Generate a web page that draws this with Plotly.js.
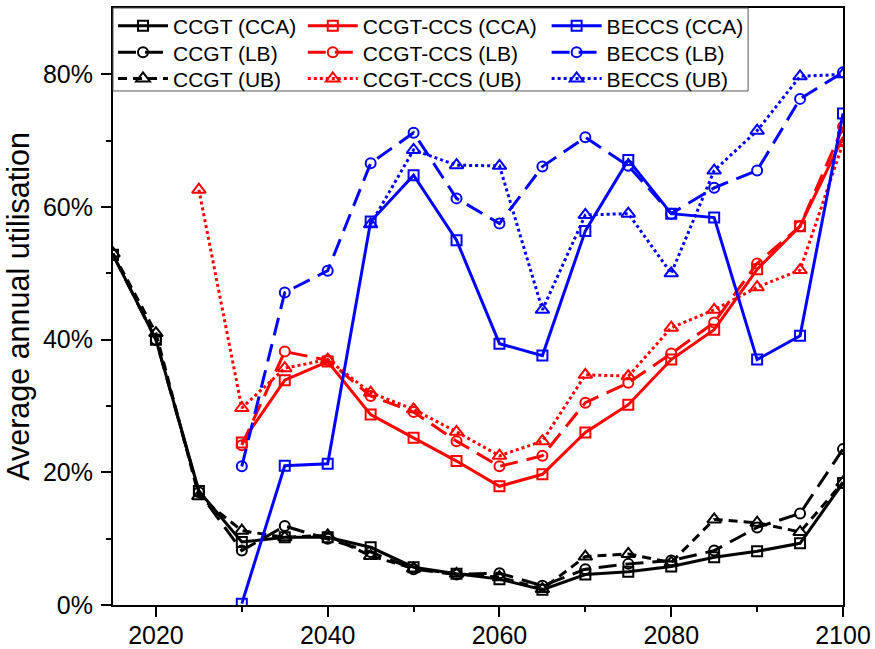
<!DOCTYPE html>
<html>
<head>
<meta charset="utf-8">
<script src="https://cdn.plot.ly/plotly-3.0.1.min.js"></script>
<style>html,body{margin:0;padding:0;background:#fff;}#chart{width:875px;height:649px;}</style>
</head>
<body>
<div id="chart"></div>
<script>
const years = [2015,2020,2025,2030,2035,2040,2045,2050,2055,2060,2065,2070,2075,2080,2085,2090,2095,2100];

const ccgtCCA = [52.8,40.0,17.2,9.5,10.2,10.2,8.7,5.7,4.7,3.9,2.3,4.6,5.0,5.8,7.2,8.1,9.3,18.4];
const ccgtLB  = [52.8,40.0,17.0,8.2,11.9,10.0,8.0,5.4,4.6,4.8,2.9,5.4,6.2,6.7,8.2,11.7,13.8,23.5];
const ccgtUB  = [53.0,41.0,16.4,11.2,10.2,10.5,7.4,5.5,4.7,4.2,2.4,7.3,7.7,6.4,12.9,12.4,11.0,18.5];

const ccsCCA = [null,null,null,24.5,33.9,36.7,28.7,25.2,21.7,17.9,19.7,26.0,30.2,37.0,41.5,50.6,57.1,70.5];
const ccsLB  = [null,null,null,24.1,38.2,36.9,31.5,29.1,24.7,20.9,22.5,30.5,33.5,37.9,42.6,51.5,57.1,72.1];
const ccsUB  = [null,null,62.6,29.7,35.7,37.0,32.0,29.5,26.1,22.5,24.7,34.7,34.5,41.8,44.5,47.9,50.5,69.6];

const beccsCCA = [null,null,null,0.2,21.0,21.3,57.8,64.8,55.0,39.4,37.6,56.4,67.1,59.0,58.4,37.0,40.6,74.1];
const beccsLB  = [null,null,null,20.9,47.1,50.4,66.6,71.2,61.3,57.5,66.1,70.5,66.2,59.0,62.9,65.5,76.3,80.3];
const beccsUB  = [null,null,null,null,null,null,57.4,68.6,66.3,66.2,44.5,58.8,59.0,50.0,65.5,71.5,79.7,80.0];

const names = ['CCGT (CCA)','CCGT (LB)','CCGT (UB)','CCGT-CCS (CCA)','CCGT-CCS (LB)','CCGT-CCS (UB)','BECCS (CCA)','BECCS (LB)','BECCS (UB)'];
const xTickVals = [2020,2040,2060,2080,2100];
const yTickVals = [0,20,40,60,80];

const BLACK = '#000000', RED = '#ff0000', BLUE = '#0000ff';
const dashLB = '18px,9px';
const dashUBblack = '9px,6px';

function tr(name, y, color, dash, symbol, legend) {
  return {
    type: 'scatter', mode: 'lines+markers', x: years, y: y, name: name,
    connectgaps: false, legend: legend,
    line: {color: color, width: 3, dash: dash},
    marker: {symbol: symbol, size: symbol.indexOf('triangle') === 0 ? 12 : 10, color: color, line: {color: color, width: 2}}
  };
}

const data = [
  tr(names[0], ccgtCCA, BLACK, 'solid', 'square-open', 'legend'),
  tr(names[1], ccgtLB, BLACK, dashLB, 'circle-open', 'legend2'),
  tr(names[2], ccgtUB, BLACK, dashUBblack, 'triangle-up-open', 'legend3'),
  tr(names[3], ccsCCA, RED, 'solid', 'square-open', 'legend4'),
  tr(names[4], ccsLB, RED, dashLB, 'circle-open', 'legend5'),
  tr(names[5], ccsUB, RED, 'dot', 'triangle-up-open', 'legend6'),
  tr(names[6], beccsCCA, BLUE, 'solid', 'square-open', 'legend7'),
  tr(names[7], beccsLB, BLUE, dashLB, 'circle-open', 'legend8'),
  tr(names[8], beccsUB, BLUE, 'dot', 'triangle-up-open', 'legend9')
];

const legBase = {yanchor: 'middle', xanchor: 'left', bgcolor: 'rgba(0,0,0,0)', borderwidth: 0,
  font: {family: 'Liberation Sans, Arial, sans-serif', size: 21, color: '#000'}, itemwidth: 50, tracegroupgap: 0};
const colX = [0.0, 0.26, 0.594];
const rowY = [0.9698, 0.9251, 0.8815];
function leg(c, r) { return Object.assign({}, legBase, {x: colX[c], y: rowY[r]}); }

const layout = {
  width: 875, height: 649,
  margin: {l: 113, r: 32, t: 8, b: 44, autoexpand: false},
  paper_bgcolor: '#fff', plot_bgcolor: '#fff',
  font: {family: 'Liberation Sans, Arial, sans-serif', color: '#000'},
  showlegend: true,
  legend: leg(0,0), legend2: leg(0,1), legend3: leg(0,2),
  legend4: leg(1,0), legend5: leg(1,1), legend6: leg(1,2),
  legend7: leg(2,0), legend8: leg(2,1), legend9: leg(2,2),
  xaxis: {
    range: [2015, 2100], tickvals: xTickVals, ticktext: xTickVals.map(String),
    ticks: 'outside', ticklen: 10, tickwidth: 2, tickcolor: '#000', ticklabelstandoff: -3,
    minor: {tickvals: [2030,2050,2070,2090], ticks: 'outside', ticklen: 5, tickwidth: 2, tickcolor: '#000'},
    showline: true, linewidth: 2, linecolor: '#000', mirror: true,
    showgrid: false, zeroline: false,
    tickfont: {size: 25, color: '#000'}
  },
  yaxis: {
    range: [0, 90], tickvals: yTickVals, ticktext: yTickVals.map(v => v + '%'),
    ticks: 'outside', ticklen: 10, tickwidth: 2, tickcolor: '#000', ticklabelstandoff: 3,
    minor: {tickvals: [10,30,50,70], ticks: 'outside', ticklen: 5, tickwidth: 2, tickcolor: '#000'},
    showline: true, linewidth: 2, linecolor: '#000', mirror: true,
    showgrid: false, zeroline: false,
    tickfont: {size: 25, color: '#000'},
    title: {text: 'Average annual utilisation', font: {size: 30.5, color: '#000'}, standoff: 4}
  },
  shapes: [{type: 'rect', xref: 'paper', yref: 'paper', x0: 0, x1: 0.87, y0: 0.861, y1: 1,
    line: {color: '#555', width: 1}, fillcolor: 'rgba(0,0,0,0)', layer: 'above'}]
};

Plotly.newPlot('chart', data, layout, {displayModeBar: false, staticPlot: true});
</script>
</body>
</html>
